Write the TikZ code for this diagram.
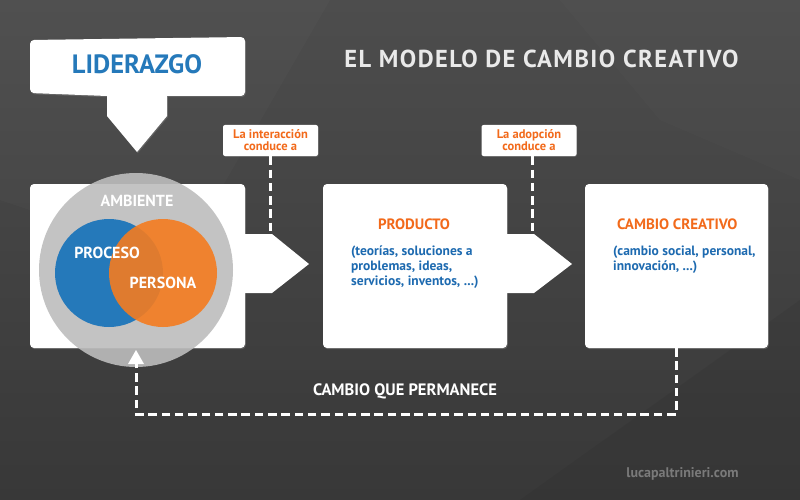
\documentclass[tikz,border=0pt]{standalone}
\usepackage{fontspec}
\setmainfont{PT Sans}
\newfontfamily\spaced[LetterSpace=6]{PT Sans}
\usetikzlibrary{shadows,arrows.meta}
\definecolor{bgA}{HTML}{4D4D4D}
\definecolor{bgB}{HTML}{383838}
\definecolor{lblue}{HTML}{2579BA}
\definecolor{tblue}{HTML}{1D6AB0}
\definecolor{lorange}{HTML}{F47C20}
\definecolor{torange}{HTML}{F26A1B}
\definecolor{ring}{HTML}{BDBDBD}
\definecolor{titlec}{HTML}{E9E9E9}
\definecolor{webc}{HTML}{7A7A7A}
\tikzset{
  panel/.style={fill=white, rounded corners=4pt, drop shadow={shadow xshift=0.8pt, shadow yshift=-1.2pt, opacity=0.45}},
  lbl/.style={fill=white, rounded corners=2pt, drop shadow={shadow xshift=0.6pt, shadow yshift=-0.8pt, opacity=0.4}, minimum width=95pt, minimum height=31pt, align=center, text=torange, font=\bfseries\fontsize{12.5}{13}\selectfont, inner sep=0pt},
  dline/.style={draw=white, line width=3pt, dash pattern=on 8.5pt off 4.8pt},
  wtxt/.style={text=white, font=\bfseries\fontsize{16}{18}\selectfont},
  btxt/.style={text=tblue, font=\bfseries\fontsize{13.5}{15}\selectfont, align=left, anchor=north west, inner sep=0pt},
  otxt/.style={text=torange, font=\bfseries\fontsize{15}{16}\selectfont},
}
\begin{document}
\begin{tikzpicture}[x=1pt,y=-1pt]
\useasboundingbox (0,0) rectangle (800,500);
\shade[top color=bgA, bottom color=bgB] (0,0) rectangle (800,500);
\fill[white,opacity=0.02] (0,0) -- (330,0) -- (180,260) -- (0,200) -- cycle;
\fill[white,opacity=0.015] (560,0) -- (800,0) -- (800,180) -- (660,120) -- cycle;
\fill[black,opacity=0.05] (520,500) -- (800,300) -- (800,500) -- cycle;

% title
\node[text=titlec, font=\spaced\bfseries\fontsize{24.5}{26}\selectfont] (title) at (541.5,59) {EL MODELO DE CAMBIO CREATIVO};

% leadership callout
\path[panel] (30,40) -- (30,93) [rounded corners=0pt] -- (107,96) -- (107,116) -- (137,152) -- (167,116) -- (167,96) [rounded corners=4pt] -- (245,96) -- (245,37) -- cycle;
\node[text=lblue, font=\bfseries\fontsize{26.5}{28}\selectfont] (lider) at (137,64) {LIDERAZGO};

% boxes with arrows
\path[panel] (30,184) rectangle (245,348);
\path[fill=white] (244,234) -- (272,234) -- (309,264) -- (272,293) -- (244,293) -- cycle;
\path[panel] (323,184) rectangle (507,348);
\path[fill=white] (506,234) -- (534,234) -- (572,264) -- (534,293) -- (506,293) -- cycle;
\path[panel] (585,184) rectangle (768,348);
\coordinate (a1) at (270,234);
\coordinate (a2) at (532,234);

% venn
\fill[ring, opacity=0.9] (136,270) circle (97);
\fill[lblue] (109,273) circle (54);
\fill[lorange, opacity=0.9] (163,273) circle (54);
\node[wtxt] (amb) at (137,201) {AMBIENTE};
\node[wtxt] (proc) at (107,253) {PROCESO};
\node[wtxt] (pers) at (163,283) {PERSONA};
\coordinate (vbot) at (136,350);

% labels
\node[lbl] (l1) at (270.5,140.5) {La interacción\\[-1pt]conduce a};
\node[lbl] (l2) at (529,140.5) {La adopción\\[-1pt]conduce a};
\draw[dline] (l1.south -| a1) -- (a1);
\draw[dline] (l2.south -| a2) -- (a2);

% box texts
\node[otxt] (prod) at (414,224) {PRODUCTO};
\node[btxt] (prodt) at (351,246) {(teorías, soluciones a\\problemas, ideas,\\servicios, inventos, ...)};
\node[otxt, anchor=west, inner sep=0pt] (cc) at (617,224) {CAMBIO CREATIVO};
\node[btxt] (cct) at (613,246) {(cambio social, personal,\\innovación, ...)};

% feedback
\coordinate (b3) at (676,348);
\coordinate (c1) at (676,414);
\coordinate (c2) at (136,414);
\draw[dline] (b3) -- (c1) -- (c2) -- (136,362);
\fill[white] (vbot) -- (128,364) -- (144,364) -- cycle;
\node[text=white, font=\bfseries\fontsize{16.5}{18}\selectfont] (perm) at (405,391) {CAMBIO QUE PERMANECE};
\node[text=webc, font=\bfseries\fontsize{14}{15}\selectfont] (web) at (682.5,474) {lucapaltrinieri.com};
\end{tikzpicture}
\end{document}
